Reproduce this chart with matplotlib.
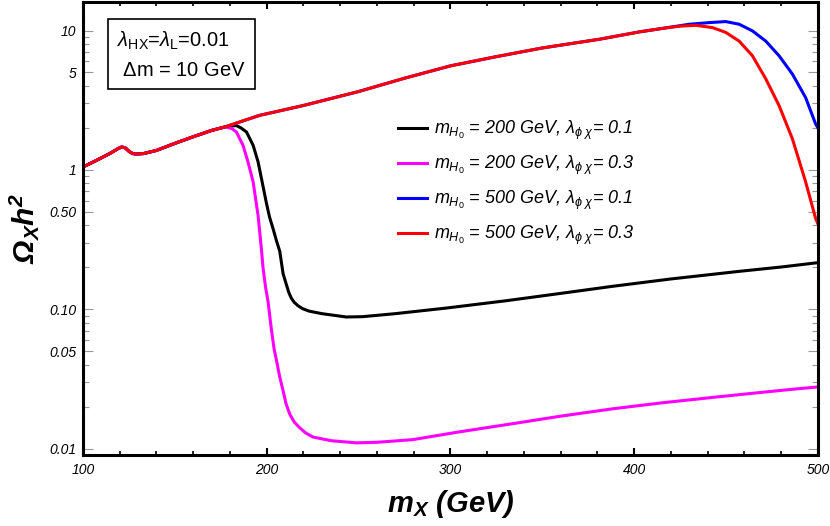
import numpy as np
import matplotlib
matplotlib.use("Agg")
import matplotlib.pyplot as plt
from matplotlib.ticker import FixedLocator, NullFormatter

plt.rcParams['font.family'] = ['Liberation Sans', 'DejaVu Sans']
plt.rcParams['mathtext.fontset'] = 'custom'
plt.rcParams['mathtext.rm'] = 'Liberation Sans'
plt.rcParams['mathtext.it'] = 'Liberation Sans:italic'
plt.rcParams['mathtext.bf'] = 'Liberation Sans:bold:italic'

# shared low-mass part of all four curves
mx_base = [100, 105, 110, 115, 119, 121, 123, 125, 127, 129, 133, 140, 150, 160, 170, 177]
omega_base = [1.05, 1.13, 1.22, 1.32, 1.42, 1.46, 1.44, 1.36, 1.31, 1.30, 1.31, 1.38, 1.55, 1.73, 1.92, 2.03]

# tails after each curve leaves the shared part
mx_black = [180, 183.5, 186, 189, 192.6, 195.3, 197.1, 199.8, 201.5, 203.4, 205.3, 207.1, 208.9,
            210.7, 212, 213.4, 215, 217, 219.5, 223, 230, 243.3, 252.3, 270, 297.7, 330, 360,
            388, 420, 457, 480, 500]
omega_black = [2.06, 2.08, 2.0, 1.87, 1.50, 1.14, 0.87, 0.58, 0.46, 0.38, 0.31, 0.26, 0.18,
               0.15, 0.132, 0.12, 0.112, 0.106, 0.101, 0.097, 0.093, 0.088, 0.0885, 0.093,
               0.102, 0.115, 0.130, 0.146, 0.165, 0.187, 0.201, 0.216]

mx_magenta = [178, 181, 183.5, 187.1, 189.8, 192.6, 195.3, 197.1, 198, 199.5, 200.7, 202.5,
              204, 205.3, 207, 208.9, 210.5, 212.5, 215, 218, 221, 225.2, 235, 248.7, 260,
              279.5, 305, 333.9, 360, 388.2, 415, 442.6, 465, 487.9, 500]
omega_magenta = [2.03, 1.98, 1.87, 1.50, 1.14, 0.82, 0.47, 0.27, 0.197, 0.14, 0.114, 0.072,
                 0.052, 0.043, 0.033, 0.026, 0.021, 0.0177, 0.0155, 0.0141, 0.0130, 0.0121,
                 0.0114, 0.0110, 0.0111, 0.0116, 0.0132, 0.0151, 0.0171, 0.0193, 0.0213,
                 0.0233, 0.0250, 0.0268, 0.0277]

mx_high = [180, 188, 196, 220, 250, 275, 300, 325, 350, 381, 403, 417.2]
omega_high = [2.09, 2.27, 2.46, 2.9, 3.65, 4.55, 5.58, 6.5, 7.5, 8.66, 9.79, 10.45]

mx_blue = [430, 440.8, 449.8, 457.1, 464.3, 471.6, 478.8, 486.1, 493.3, 498.7, 500]
omega_blue = [11.1, 11.4, 11.6, 11.1, 9.95, 8.4, 6.6, 4.87, 3.3, 2.14, 2.0]

mx_red = [425, 433.5, 442.6, 449.8, 457.1, 464.3, 471.6, 478.8, 486.1, 493.3, 498.7, 500]
omega_red = [10.75, 10.9, 10.5, 9.7, 8.4, 6.6, 4.5, 2.9, 1.67, 0.82, 0.45, 0.41]

labels = [r'$m_{H_0}$ = 200 GeV, $\lambda_{\phi\ \chi}$= 0.1',
          r'$m_{H_0}$ = 200 GeV, $\lambda_{\phi\ \chi}$= 0.3',
          r'$m_{H_0}$ = 500 GeV, $\lambda_{\phi\ \chi}$= 0.1',
          r'$m_{H_0}$ = 500 GeV, $\lambda_{\phi\ \chi}$= 0.3']
colors = ['black', '#ff00ff', '#0000ff', '#ff0000']

fig = plt.figure(figsize=(8.3, 5.26), dpi=100)
ax = fig.add_axes([0.1, 0.135, 0.8855, 0.861])

curves = [
    (mx_base + mx_black, omega_base + omega_black),
    (mx_base + mx_magenta, omega_base + omega_magenta),
    (mx_base + mx_high + mx_blue, omega_base + omega_high + omega_blue),
    (mx_base + mx_high + mx_red, omega_base + omega_high + omega_red),
]
for (xs, ys), c, lab in zip(curves, colors, labels):
    ax.plot(xs, ys, color=c, lw=2.2, label=lab, solid_joinstyle='round')

ax.set_yscale('log')
ax.set_xlim(100, 500)
ax.set_ylim(0.009, 16)

# ticks
ax.xaxis.set_major_locator(FixedLocator([100, 200, 300, 400, 500]))
ax.xaxis.set_minor_locator(FixedLocator(np.arange(100, 501, 20)))
ax.set_xticklabels(['100', '200', '300', '400', '500'], style='italic', fontsize=10)
ax.tick_params(axis='x', which='both', direction='in', top=True, bottom=True,
               color='black', pad=6)
ax.tick_params(axis='x', which='major', length=5, width=1.5)
ax.tick_params(axis='x', which='minor', length=3, width=1.2)

yt = [0.01, 0.05, 0.1, 0.5, 1, 5, 10]
ax.yaxis.set_major_locator(FixedLocator(yt))
minor_y = [m * d for d in [0.01, 0.1, 1, 10] for m in range(1, 10)]
ax.yaxis.set_minor_locator(FixedLocator(minor_y))
ax.yaxis.set_minor_formatter(NullFormatter())
ax.set_yticklabels(['0.01', '0.05', '0.10', '0.50', '1', '5', '10'], style='italic', fontsize=10)
ax.tick_params(axis='y', which='both', direction='in', left=True, right=True,
               color='#999999', width=0.8, pad=5)
ax.tick_params(axis='y', which='major', length=7)
ax.tick_params(axis='y', which='minor', length=4)

for s in ax.spines.values():
    s.set_linewidth(2.2)

ax.set_xlabel(r'$\mathbf{m_X}$ $\mathbf{(GeV)}$', fontsize=21, labelpad=8)
ax.set_ylabel(r'$\mathbf{\Omega_X h^2}$', fontsize=21.5, labelpad=6)

ax.legend(loc='upper left', bbox_to_anchor=(0.406, 0.778), frameon=False,
          prop={'style': 'italic', 'size': 13}, handlelength=1.65,
          labelspacing=0.66, handletextpad=0.35)

ax.text(0.046, 0.94, r'$\lambda_{\mathrm{HX}}$=$\lambda_{\mathrm{L}}$=0.01' + '\n' + r' $\Delta$m = 10 GeV',
        transform=ax.transAxes, fontsize=14.5, va='top', ha='left', linespacing=1.6,
        bbox=dict(boxstyle='square,pad=0.45', facecolor='white', edgecolor='black', lw=1.2))

fig.savefig('out.png', dpi=100)
